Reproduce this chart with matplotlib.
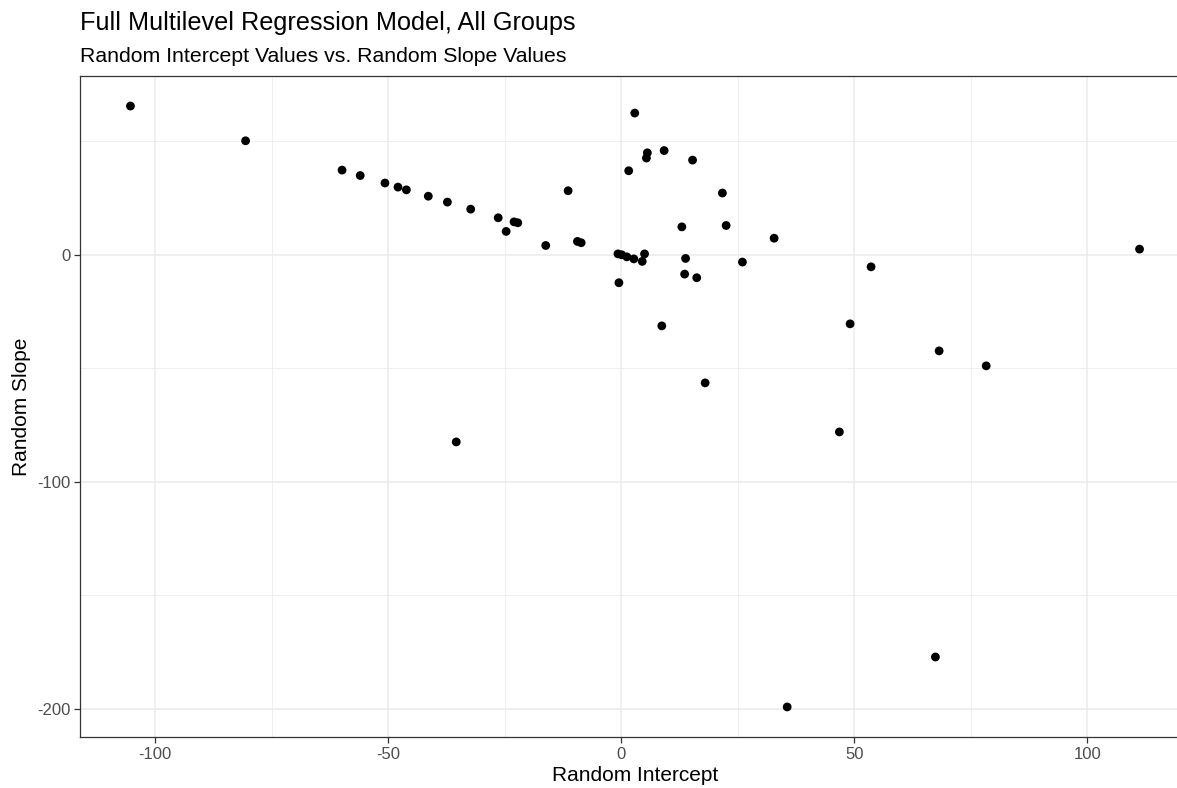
import numpy as np
import matplotlib.pyplot as plt
from matplotlib.ticker import MultipleLocator

plt.rcParams['font.family'] = ['Liberation Sans', 'DejaVu Sans']

# random effects per group: intercept (x) and slope (y)
intercepts = [-105.3, -80.6, -59.9, -56.0, -50.7, -47.9, -46.1, -41.4, -37.3, -32.3,
              2.9, 5.6, 5.4, 9.2, 15.3, 1.6, -11.4, 21.7, -26.4, -23.0,
              -22.2, -24.7, 13.0, 22.5, 32.8, -16.2, -9.4, -8.6, -0.7, 0.1,
              1.2, 2.7, 5.0, 4.5, 13.8, 13.6, 16.2, 26.0, -0.5, 8.7,
              -35.4, 18.0, 46.8, 49.1, 53.6, 68.2, 78.3, 111.2, 67.4, 35.6]
slopes = [65.5, 50.2, 37.3, 34.9, 31.6, 29.8, 28.6, 25.8, 23.2, 20.1,
          62.4, 44.9, 42.6, 45.9, 41.7, 37.0, 28.2, 27.2, 16.3, 14.5,
          14.1, 10.3, 12.3, 12.9, 7.3, 4.1, 5.9, 5.3, 0.4, 0.0,
          -0.9, -1.8, 0.4, -2.9, -1.6, -8.5, -10.1, -3.2, -12.3, -31.3,
          -82.4, -56.4, -78.0, -30.4, -5.3, -42.3, -48.9, 2.5, -177.1, -199.1]

x = np.array(intercepts)
y = np.array(slopes)

fig = plt.figure(figsize=(11.77, 7.88), dpi=100)
W, H = 1177, 788
# panel runs past the right edge of the canvas
ax = fig.add_axes([80 / W, (H - 737) / H, (1190 - 80) / W, (737 - 76) / H])

ax.scatter(x, y, s=40, color='black', edgecolors='none', zorder=3)

# ggplot-style 5% padding
xr = x.max() - x.min()
yr = y.max() - y.min()
ax.set_xlim(x.min() - 0.05 * xr, x.max() + 0.05 * xr)
ax.set_ylim(y.min() - 0.05 * yr, y.max() + 0.05 * yr)

ax.xaxis.set_major_locator(MultipleLocator(50))
ax.xaxis.set_minor_locator(MultipleLocator(25))
ax.yaxis.set_major_locator(MultipleLocator(100))
ax.yaxis.set_minor_locator(MultipleLocator(50))
ax.xaxis.set_major_formatter(plt.FuncFormatter(lambda v, p: f"{v:g}"))
ax.yaxis.set_major_formatter(plt.FuncFormatter(lambda v, p: f"{v:g}"))

ax.grid(which='major', color='#ebebeb', linewidth=1.1)
ax.grid(which='minor', color='#ebebeb', linewidth=0.55)
ax.set_axisbelow(True)

for sp in ax.spines.values():
    sp.set_color('#333333')
    sp.set_linewidth(0.9)

ax.tick_params(which='major', length=4, width=0.9, color='#333333',
               labelcolor='#4d4d4d', labelsize=12, pad=3)
ax.tick_params(which='minor', length=0)

ax.set_xlabel('Random Intercept', fontsize=15, labelpad=3)
ax.set_ylabel('Random Slope', fontsize=15, labelpad=4)

fig.text(80 / W, 1 - 23 / H, 'Full Multilevel Regression Model, All Groups',
         fontsize=18.2, va='center', ha='left')
fig.text(80 / W, 1 - 56 / H, 'Random Intercept Values vs. Random Slope Values',
         fontsize=15.3, va='center', ha='left')

fig.savefig('out.png', dpi=100)
